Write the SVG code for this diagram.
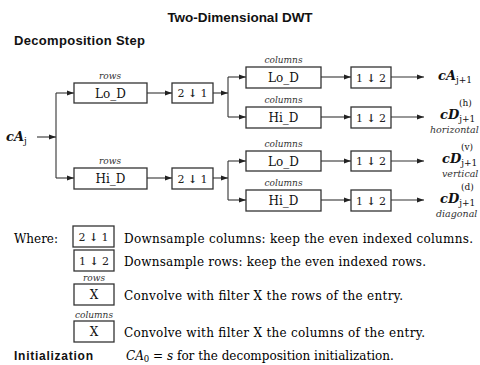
<svg xmlns="http://www.w3.org/2000/svg" width="480" height="365" viewBox="0 0 480 365">
<defs>
<marker id="ah" markerWidth="7" markerHeight="6" refX="7" refY="3" orient="auto" markerUnits="userSpaceOnUse">
<path d="M0,0.6 L7,3 L0,5.4 Z" fill="#222"/>
</marker>
<style>
.box{fill:#fff;stroke:#333;stroke-width:1.3}
.ln{fill:none;stroke:#333;stroke-width:1.1}
.ar{fill:none;stroke:#333;stroke-width:1.1;marker-end:url(#ah)}
.hd{font-family:"Liberation Sans",Arial,sans-serif;font-weight:bold;fill:#111}
.bl{font-family:"DejaVu Serif","Liberation Serif",serif;font-size:12px;fill:#111;text-anchor:middle}
.ds{font-family:"DejaVu Serif","Liberation Serif",serif;font-size:11px;fill:#222;text-anchor:middle}
.it{font-family:"DejaVu Serif","Liberation Serif",serif;font-style:italic;font-size:9px;fill:#333;text-anchor:middle}
.itl{font-family:"DejaVu Serif","Liberation Serif",serif;font-style:italic;font-size:9.5px;fill:#333}
.out{font-family:"DejaVu Serif","Liberation Serif",serif;font-style:italic;font-weight:bold;font-size:13px;fill:#111}
.sub{font-family:"DejaVu Serif","Liberation Serif",serif;font-size:9px;fill:#111;font-style:normal;font-weight:normal}
.lg{font-family:"DejaVu Serif","Liberation Serif",serif;font-size:12px;fill:#000}
</style>
</defs>
<text class="hd" x="240" y="22" font-size="13.5" text-anchor="middle">Two-Dimensional DWT</text>
<text class="hd" x="14" y="45" font-size="13" textLength="131">Decomposition Step</text>

<g id="connectors">
<path class="ar" d="M37,137 H56"/>
<path class="ln" d="M56,93 V178"/>
<path class="ar" d="M56,93 H74"/>
<path class="ar" d="M56,178 H74"/>
<path class="ar" d="M147,93 H172"/>
<path class="ar" d="M147,178 H172"/>
<path class="ar" d="M213,93 H228"/>
<path class="ar" d="M213,178 H228"/>
<path class="ln" d="M228,77 V117"/>
<path class="ln" d="M228,161 V200"/>
<path class="ar" d="M228,77 H246"/>
<path class="ar" d="M228,117 H246"/>
<path class="ar" d="M228,161 H246"/>
<path class="ar" d="M228,200 H246"/>
<path class="ar" d="M321,77 H351"/>
<path class="ar" d="M321,117 H351"/>
<path class="ar" d="M321,161 H351"/>
<path class="ar" d="M321,200 H351"/>
<path class="ar" d="M391,77 H424"/>
<path class="ar" d="M391,117 H424"/>
<path class="ar" d="M391,161 H424"/>
<path class="ar" d="M391,200 H424"/>
</g>

<g id="input"><text class="out" x="6" y="141">cA<tspan class="sub" dy="3">j</tspan></text></g>

<g id="rowLo">
<text class="it" x="110" y="79">rows</text>
<rect class="box" x="74" y="83" width="73" height="20"/>
<text class="bl" x="110.5" y="97.5">Lo_D</text>
</g>
<g id="rowLoDown">
<rect class="box" x="172" y="83" width="41" height="20"/>
<text class="ds" x="192.5" y="97">2 <tspan font-weight="bold">↓</tspan> 1</text>
</g>
<g id="rowHi">
<text class="it" x="110" y="164">rows</text>
<rect class="box" x="74" y="168" width="73" height="21"/>
<text class="bl" x="110.5" y="183">Hi_D</text>
</g>
<g id="rowHiDown">
<rect class="box" x="172" y="168" width="41" height="21"/>
<text class="ds" x="192.5" y="182.5">2 <tspan font-weight="bold">↓</tspan> 1</text>
</g>

<g id="colLo1">
<text class="it" x="283.5" y="63" font-size="9.5">columns</text>
<rect class="box" x="246" y="67" width="75" height="21"/>
<text class="bl" x="283.5" y="82">Lo_D</text>
</g>
<g id="colHi1">
<text class="it" x="283.5" y="103" font-size="9.5">columns</text>
<rect class="box" x="246" y="107" width="75" height="21"/>
<text class="bl" x="283.5" y="122">Hi_D</text>
</g>
<g id="colLo2">
<text class="it" x="283.5" y="147" font-size="9.5">columns</text>
<rect class="box" x="246" y="151" width="75" height="20"/>
<text class="bl" x="283.5" y="165.5">Lo_D</text>
</g>
<g id="colHi2">
<text class="it" x="283.5" y="186" font-size="9.5">columns</text>
<rect class="box" x="246" y="190" width="75" height="21"/>
<text class="bl" x="283.5" y="205">Hi_D</text>
</g>

<g id="colDown1"><rect class="box" x="351" y="67" width="40" height="21"/><text class="ds" x="371" y="81.5">1 <tspan font-weight="bold">↓</tspan> 2</text></g>
<g id="colDown2"><rect class="box" x="351" y="107" width="40" height="21"/><text class="ds" x="371" y="121.5">1 <tspan font-weight="bold">↓</tspan> 2</text></g>
<g id="colDown3"><rect class="box" x="351" y="151" width="40" height="20"/><text class="ds" x="371" y="165">1 <tspan font-weight="bold">↓</tspan> 2</text></g>
<g id="colDown4"><rect class="box" x="351" y="190" width="40" height="21"/><text class="ds" x="371" y="204.5">1 <tspan font-weight="bold">↓</tspan> 2</text></g>

<g id="outA"><text class="out" x="438" y="80">cA<tspan class="sub" dy="3">j+1</tspan></text></g>
<g id="outH">
<text class="sub" x="459" y="106">(h)</text>
<text class="out" x="440" y="119">cD<tspan class="sub" dy="3">j+1</tspan></text>
<text class="itl" x="430" y="133">horizontal</text>
</g>
<g id="outV">
<text class="sub" x="461" y="150">(v)</text>
<text class="out" x="442" y="163">cD<tspan class="sub" dy="3">j+1</tspan></text>
<text class="itl" x="442" y="177">vertical</text>
</g>
<g id="outD">
<text class="sub" x="461" y="190">(d)</text>
<text class="out" x="440" y="203">cD<tspan class="sub" dy="3">j+1</tspan></text>
<text class="itl" x="436" y="217">diagonal</text>
</g>

<g id="legend">
<text class="lg" x="14" y="243" textLength="44">Where:</text>
<rect class="box" x="73" y="226" width="41" height="21"/>
<text class="ds" x="93.5" y="241">2 <tspan font-weight="bold">↓</tspan> 1</text>
<text class="lg" x="124" y="243" textLength="349">Downsample columns: keep the even indexed columns.</text>
<rect class="box" x="74" y="250" width="40" height="21"/>
<text class="ds" x="94" y="265">1 <tspan font-weight="bold">↓</tspan> 2</text>
<text class="lg" x="124" y="266" textLength="302">Downsample rows: keep the even indexed rows.</text>
<text class="it" x="94" y="281">rows</text>
<rect class="box" x="74" y="284" width="40" height="21"/>
<text class="bl" x="94" y="299">X</text>
<text class="lg" x="124" y="300" textLength="279">Convolve with filter X the rows of the entry.</text>
<text class="it" x="94" y="318" font-size="10">columns</text>
<rect class="box" x="74" y="321" width="40" height="21"/>
<text class="bl" x="94" y="336">X</text>
<text class="lg" x="124" y="337" textLength="301">Convolve with filter X the columns of the entry.</text>
<text class="hd" x="14" y="360" font-size="12" textLength="79">Initialization</text>
<text class="lg" x="126" y="360"><tspan font-style="italic">CA</tspan><tspan font-size="8.5" dy="2">0</tspan><tspan dy="-2"> = </tspan><tspan font-style="italic">s</tspan> for the decomposition initialization.</text>
</g>
</svg>
